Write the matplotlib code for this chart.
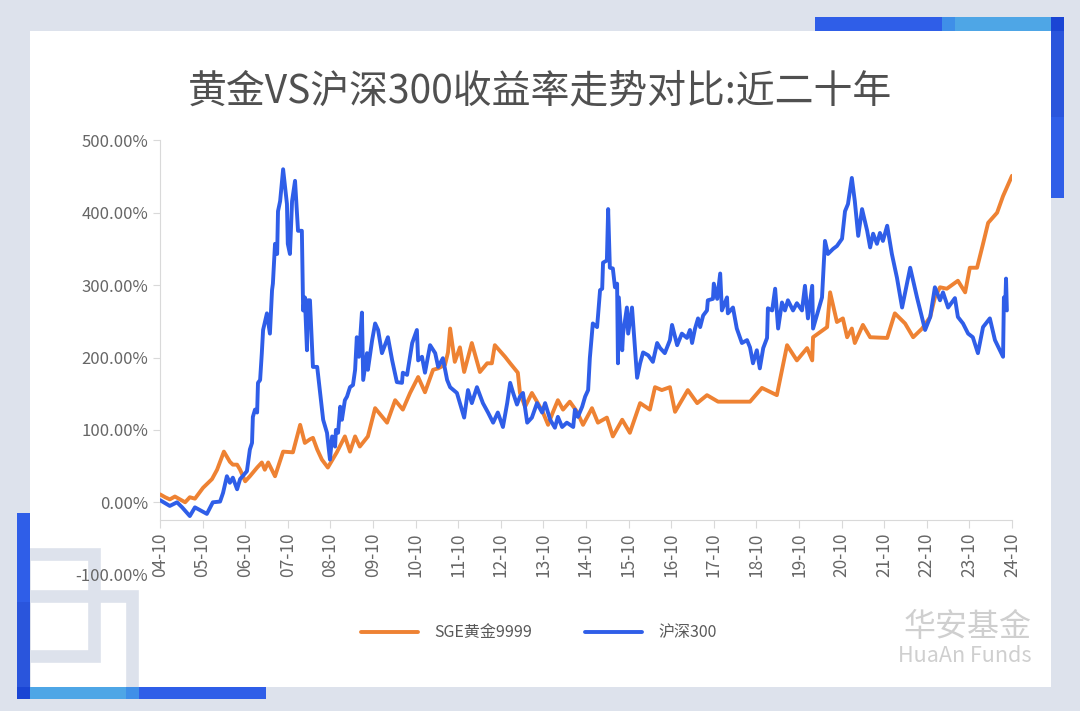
import matplotlib
matplotlib.use("Agg")
import matplotlib.pyplot as plt
from matplotlib.patches import Rectangle
from matplotlib.ticker import FuncFormatter

plt.rcParams['font.family'] = ['Noto Sans CJK SC', 'DejaVu Sans']

# ---------------- data ----------------
title = "黄金VS沪深300收益率走势对比:近二十年"
series_names = ["SGE黄金9999", "沪深300"]
tick_labels = ["04-10", "05-10", "06-10", "07-10", "08-10", "09-10", "10-10",
               "11-10", "12-10", "13-10", "14-10", "15-10", "16-10", "17-10",
               "18-10", "19-10", "20-10", "21-10", "22-10", "23-10", "24-10"]
y_ticks = [-100, 0, 100, 200, 300, 400, 500]

gold_t = [2004.75, 2004.87, 2004.98, 2005.10, 2005.22, 2005.34, 2005.45, 2005.57, 2005.76, 2005.97,
          2006.09, 2006.25, 2006.39, 2006.46, 2006.56, 2006.63, 2006.75, 2006.86, 2007.03, 2007.14,
          2007.21, 2007.29, 2007.45, 2007.64, 2007.87, 2008.04, 2008.15, 2008.27, 2008.34, 2008.44,
          2008.55, 2008.69, 2008.90, 2009.09, 2009.21, 2009.33, 2009.44, 2009.63, 2009.80, 2010.08,
          2010.27, 2010.45, 2010.62, 2010.81, 2010.97, 2011.16, 2011.28, 2011.44, 2011.51, 2011.56,
          2011.67, 2011.79, 2011.89, 2012.07, 2012.26, 2012.43, 2012.54, 2012.61, 2012.85, 2012.97,
          2013.15, 2013.20, 2013.32, 2013.48, 2013.60, 2013.74, 2013.86, 2013.97, 2014.09, 2014.21,
          2014.37, 2014.54, 2014.68, 2014.89, 2015.03, 2015.24, 2015.38, 2015.60, 2015.78, 2016.02,
          2016.25, 2016.37, 2016.53, 2016.72, 2016.84, 2017.14, 2017.36, 2017.59, 2017.85, 2018.60,
          2018.88, 2019.23, 2019.47, 2019.70, 2019.94, 2020.06, 2020.08, 2020.41, 2020.48, 2020.64,
          2020.78, 2020.88, 2020.99, 2021.06, 2021.25, 2021.42, 2021.82, 2022.00, 2022.24, 2022.43,
          2022.64, 2022.83, 2022.94, 2023.06, 2023.22, 2023.48, 2023.65, 2023.76, 2023.93, 2024.07,
          2024.19, 2024.40, 2024.54, 2024.75]
gold_v = [11, 7, 4, 8, 4, 0, 7, 5, 20, 32,
          45, 70, 56, 52, 52, 45, 29, 36, 48, 55,
          45, 55, 36, 70, 69, 107, 82, 87, 89, 73,
          59, 48, 69, 91, 70, 91, 77, 91, 130, 110,
          141, 128, 151, 173, 152, 183, 185, 190, 207, 240,
          194, 214, 180, 220, 180, 192, 192, 217, 201, 192,
          179, 151, 132, 151, 139, 124, 107, 124, 141, 128,
          139, 125, 107, 130, 110, 117, 91, 114, 96, 137,
          128, 159, 155, 159, 125, 155, 137, 148, 139, 139,
          158, 148, 217, 196, 213, 196, 228, 242, 290, 249,
          254, 228, 240, 220, 245, 228, 227, 261, 247, 228,
          240, 256, 283, 297, 295, 306, 290, 324, 324, 357,
          386, 400, 423, 451]

hs_t = [2004.75, 2004.98, 2005.15, 2005.27, 2005.45, 2005.57, 2005.85, 2005.99, 2006.16, 2006.23,
        2006.32, 2006.39, 2006.46, 2006.56, 2006.63, 2006.79, 2006.86, 2006.91, 2006.93, 2006.98,
        2007.03, 2007.05, 2007.10, 2007.14, 2007.17, 2007.26, 2007.33, 2007.38, 2007.40, 2007.45,
        2007.50, 2007.52, 2007.57, 2007.64, 2007.73, 2007.75, 2007.80, 2007.85, 2007.92, 2007.99,
        2008.08, 2008.11, 2008.15, 2008.20, 2008.22, 2008.27, 2008.34, 2008.44, 2008.51, 2008.58,
        2008.67, 2008.74, 2008.79, 2008.86, 2008.88, 2008.93, 2008.98, 2009.02, 2009.09, 2009.14,
        2009.21, 2009.28, 2009.33, 2009.37, 2009.42, 2009.49, 2009.52, 2009.61, 2009.63, 2009.73,
        2009.80, 2009.87, 2009.96, 2010.10, 2010.20, 2010.31, 2010.43, 2010.45, 2010.55, 2010.67,
        2010.78, 2010.81, 2010.90, 2010.97, 2011.09, 2011.21, 2011.28, 2011.39, 2011.49, 2011.56,
        2011.72, 2011.79, 2011.89, 2011.98, 2012.07, 2012.19, 2012.33, 2012.45, 2012.57, 2012.68,
        2012.80, 2012.90, 2012.97, 2013.04, 2013.13, 2013.20, 2013.27, 2013.37, 2013.48, 2013.60,
        2013.72, 2013.79, 2013.91, 2014.02, 2014.09, 2014.19, 2014.30, 2014.45, 2014.49, 2014.56,
        2014.66, 2014.73, 2014.80, 2014.84, 2014.89, 2014.91, 2015.01, 2015.03, 2015.08, 2015.13,
        2015.15, 2015.24, 2015.27, 2015.31, 2015.38, 2015.43, 2015.48, 2015.50, 2015.52, 2015.60,
        2015.62, 2015.71, 2015.74, 2015.83, 2015.95, 2016.02, 2016.09, 2016.21, 2016.32, 2016.42,
        2016.49, 2016.60, 2016.72, 2016.77, 2016.89, 2017.00, 2017.12, 2017.19, 2017.24, 2017.31,
        2017.38, 2017.43, 2017.50, 2017.59, 2017.61, 2017.73, 2017.75, 2017.83, 2017.90, 2017.94,
        2018.06, 2018.08, 2018.20, 2018.29, 2018.41, 2018.53, 2018.60, 2018.67, 2018.76, 2018.83,
        2018.91, 2019.00, 2019.02, 2019.12, 2019.19, 2019.26, 2019.35, 2019.42, 2019.49, 2019.61,
        2019.70, 2019.82, 2019.89, 2019.96, 2020.06, 2020.08, 2020.29, 2020.36, 2020.43, 2020.55,
        2020.64, 2020.76, 2020.83, 2020.90, 2020.99, 2021.06, 2021.14, 2021.23, 2021.35, 2021.42,
        2021.49, 2021.58, 2021.65, 2021.72, 2021.82, 2021.93, 2022.05, 2022.17, 2022.36, 2022.52,
        2022.71, 2022.83, 2022.94, 2023.06, 2023.13, 2023.25, 2023.41, 2023.48, 2023.60, 2023.72,
        2023.83, 2023.95, 2024.07, 2024.23, 2024.35, 2024.54, 2024.56, 2024.59, 2024.61, 2024.63]
hs_v = [3, -5, 0, -7, -19, -7, -16, 0, 1, 13,
        36, 27, 34, 18, 32, 43, 73, 82, 118, 128,
        124, 165, 169, 206, 238, 261, 233, 293, 302, 357,
        343, 402, 416, 460, 412, 357, 343, 416, 444, 375,
        375, 265, 283, 210, 279, 279, 187, 187, 150, 114,
        96, 59, 91, 77, 100, 96, 132, 114, 141, 146,
        159, 162, 183, 228, 201, 262, 169, 206, 183, 224,
        247, 238, 206, 228, 196, 166, 165, 179, 176, 220,
        238, 196, 201, 179, 217, 206, 187, 199, 169, 159,
        151, 137, 117, 155, 137, 159, 137, 124, 110, 124,
        104, 137, 165, 151, 135, 146, 151, 110, 117, 137,
        124, 137, 114, 103, 118, 104, 110, 104, 128, 118,
        132, 146, 155, 199, 233, 247, 242, 256, 293, 295,
        331, 334, 405, 324, 323, 297, 302, 192, 283, 210,
        233, 269, 233, 269, 172, 192, 207, 203, 194, 220,
        213, 206, 224, 245, 217, 233, 227, 238, 220, 240,
        254, 242, 258, 265, 279, 281, 302, 281, 316, 265,
        283, 261, 269, 240, 220, 224, 214, 192, 210, 185,
        213, 227, 268, 265, 295, 240, 276, 265, 279, 265,
        275, 265, 299, 254, 299, 240, 283, 361, 343, 350,
        354, 364, 402, 412, 448, 416, 368, 405, 375, 352,
        371, 357, 372, 361, 382, 343, 310, 269, 324, 283,
        238, 256, 297, 279, 290, 269, 282, 256, 247, 233,
        228, 206, 242, 254, 224, 201, 283, 269, 309, 265]

# ---------------- style ----------------
W, H = 1080, 711
BG = '#dde2ec'
GOLD = '#ee8233'
BLUE = '#2f5ee8'
BLUE_D = '#2a55dc'
BLUE_DD = '#1a45d4'
BLUE_L = '#4ea6e6'
BLUE_M = '#3f8fe8'
AXIS = '#d9d9d9'
TXT = '#666666'

fig = plt.figure(figsize=(W / 100, H / 100), dpi=100, facecolor=BG)


def prect(x0, y0, x1, y1, color, z):
    fig.add_artist(Rectangle((x0 / W, 1 - y1 / H), (x1 - x0) / W, (y1 - y0) / H,
                             transform=fig.transFigure, facecolor=color,
                             edgecolor='none', zorder=z))


def poutline(x0, y0, x1, y1, color, lw, z):
    fig.add_artist(Rectangle((x0 / W, 1 - y1 / H), (x1 - x0) / W, (y1 - y0) / H,
                             transform=fig.transFigure, facecolor='none',
                             edgecolor=color, linewidth=lw, joinstyle='miter', zorder=z))


# white card
prect(30, 31, 1051, 687, 'white', -3)
# decorative gray squares (bottom-left)
poutline(23.5, 554, 93.5, 656, BG, 9.1, -2)
poutline(23.5, 595.5, 132, 693, BG, 9.1, -2)
# top-right bars
prect(815, 17, 942, 31, BLUE, 5)
prect(942, 17, 955, 31, BLUE_M, 5)
prect(955, 17, 1051, 31, BLUE_L, 5)
prect(1051, 17, 1064, 31, BLUE_DD, 5)
prect(1051, 31, 1064, 117, BLUE_D, 5)
prect(1051, 117, 1064, 198, BLUE, 5)
# bottom-left bars
prect(17, 513, 30, 602, BLUE, 5)
prect(17, 602, 30, 687, BLUE_D, 5)
prect(17, 687, 30, 699, BLUE_DD, 5)
prect(30, 687, 126, 699, BLUE_L, 5)
prect(126, 687, 139, 699, BLUE_M, 5)
prect(139, 687, 266, 699, BLUE, 5)

# ---------------- axes ----------------
ax = fig.add_axes([160 / W, 1 - 574.7 / H, 852 / W, (574.7 - 140.3) / H])
ax.set_facecolor('none')

tick_pos = [2000 + int(s[:2]) + (int(s[3:]) - 1) / 12 for s in tick_labels]
ax.set_xlim(tick_pos[0], tick_pos[-1])
ax.set_ylim(y_ticks[0], y_ticks[-1])

l_gold, = ax.plot(gold_t, gold_v, color=GOLD, lw=2.8, solid_joinstyle='round',
                  solid_capstyle='round', zorder=3)
l_hs, = ax.plot(hs_t, hs_v, color=BLUE, lw=2.8, solid_joinstyle='round',
                solid_capstyle='round', zorder=4)

ax.set_yticks(y_ticks)
ax.yaxis.set_major_formatter(FuncFormatter(lambda v, p: f"{v:.2f}%"))
ax.set_xticks(tick_pos)
ax.set_xticklabels(tick_labels)

ax.tick_params(axis='y', length=5, width=0.8, color=AXIS, pad=3.5,
               labelsize=12, labelcolor=TXT)
ax.tick_params(axis='x', length=5.4, width=0.8, color=AXIS, pad=3.5,
               labelsize=12.5, labelcolor=TXT, labelrotation=90)

for s in ['top', 'right']:
    ax.spines[s].set_visible(False)
ax.spines['left'].set_color(AXIS)
ax.spines['left'].set_linewidth(0.8)
ax.spines['left'].set_bounds(-25, 500)
ax.spines['bottom'].set_color(AXIS)
ax.spines['bottom'].set_linewidth(0.8)
ax.spines['bottom'].set_position(('data', -25))
ax.yaxis.get_major_ticks()[0].tick1line.set_visible(False)

# legend
leg = ax.legend([l_gold, l_hs], series_names, loc='center',
                bbox_to_anchor=(538.5 / W, 1 - 633 / H), bbox_transform=fig.transFigure,
                ncol=2, frameon=False, fontsize=11.5, handlelength=3.6,
                handletextpad=1.0, columnspacing=3.3, labelcolor='#595959')

# title
fig.text(0.5, 1 - 91 / H, title, ha='center', va='center', fontsize=28,
         color='#505050', fontweight='medium')

# watermark
fig.text(1032 / W, 1 - 627 / H, "华安基金", ha='right', va='center', fontsize=23,
         color='#cfcfcf', fontweight='medium')
fig.text(1031 / W, 1 - 656 / H, "HuaAn Funds", ha='right', va='center', fontsize=15.5,
         color='#cfcfcf', fontweight='medium')

fig.savefig('out.png', dpi=100, facecolor=fig.get_facecolor())
